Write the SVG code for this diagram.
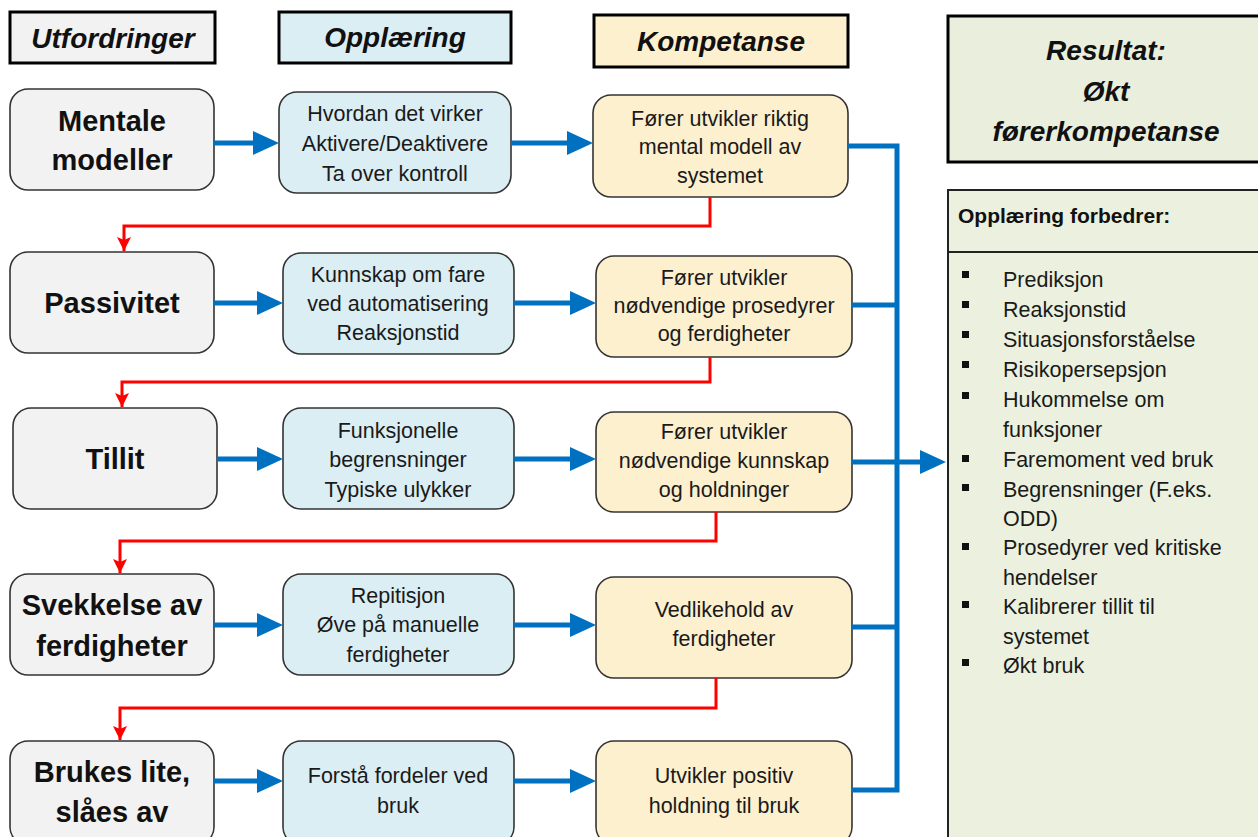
<svg xmlns="http://www.w3.org/2000/svg" width="1258" height="837" viewBox="0 0 1258 837">
  <style>
    .hdr { stroke: #000; stroke-width: 3; }
    .node { stroke: #333; stroke-width: 1.6; }
    .grey { fill: #f2f2f2; }
    .blue { fill: #dbeef4; }
    .cream { fill: #fdf0cf; }
    .green { fill: #e9efdc; }
    text { font-family: "Liberation Sans", Arial, sans-serif; fill: #111; }
    .ht { font-size: 28px; font-weight: bold; font-style: italic; text-anchor: middle; }
    .lt { font-size: 29px; font-weight: bold; text-anchor: middle; }
    .bt { font-size: 21.5px; text-anchor: middle; fill: #1a1a1a; }
    .pt { font-size: 21.5px; fill: #1a1a1a; }
    .flow { stroke: #0070c0; stroke-width: 5; fill: none; }
    .back { stroke: #ff0000; stroke-width: 3; fill: none; }
  </style>
  <defs>
    <marker id="blueHead" markerUnits="userSpaceOnUse" markerWidth="26" markerHeight="24" refX="4" refY="12" orient="auto">
      <path d="M0,0 L26,12 L0,24 z" fill="#0070c0"/>
    </marker>
    <marker id="redHead" markerUnits="userSpaceOnUse" markerWidth="14" markerHeight="14" refX="14" refY="7" orient="auto">
      <path d="M0,0 L14,7 L0,14 L3,7 z" fill="#ff0000"/>
    </marker>
  </defs>

  <rect width="1258" height="837" fill="#fff"/>

  <!-- column headers -->
  <g id="hdr-utfordringer">
    <rect class="hdr grey" x="10" y="12" width="205" height="51"/>
    <text class="ht" x="113" y="48">Utfordringer</text>
  </g>
  <g id="hdr-opplaering">
    <rect class="hdr blue" x="279" y="12" width="232" height="51"/>
    <text class="ht" x="395" y="47">Opplæring</text>
  </g>
  <g id="hdr-kompetanse">
    <rect class="hdr cream" x="594" y="15" width="254" height="52"/>
    <text class="ht" x="721" y="51">Kompetanse</text>
  </g>
  <g id="hdr-resultat">
    <rect class="hdr green" x="948" y="16" width="314" height="146"/>
    <text class="ht" x="1106" y="60">Resultat:</text>
    <text class="ht" x="1106" y="101">Økt</text>
    <text class="ht" x="1106" y="141" font-size="30">førerkompetanse</text>
  </g>

  <!-- result panel -->
  <g id="panel">
    <rect x="948" y="190" width="314" height="652" fill="#ebf1de" stroke="#222" stroke-width="2"/>
    <line x1="948" y1="252" x2="1262" y2="252" stroke="#222" stroke-width="2"/>
    <text x="958" y="223" font-size="21" font-weight="bold">Opplæring forbedrer:</text>
    <g fill="#111">
      <rect x="962" y="271" width="7" height="7"/>
      <rect x="962" y="301" width="7" height="7"/>
      <rect x="962" y="331" width="7" height="7"/>
      <rect x="962" y="361" width="7" height="7"/>
      <rect x="962" y="392" width="7" height="7"/>
      <rect x="962" y="455" width="7" height="7"/>
      <rect x="962" y="484" width="7" height="7"/>
      <rect x="962" y="543" width="7" height="7"/>
      <rect x="962" y="601" width="7" height="7"/>
      <rect x="962" y="659" width="7" height="7"/>
    </g>
    <text class="pt" x="1003" y="287">Prediksjon</text>
    <text class="pt" x="1003" y="317">Reaksjonstid</text>
    <text class="pt" x="1003" y="347">Situasjonsforståelse</text>
    <text class="pt" x="1003" y="377">Risikopersepsjon</text>
    <text class="pt" x="1003" y="407">Hukommelse om</text>
    <text class="pt" x="1003" y="437">funksjoner</text>
    <text class="pt" x="1003" y="467">Faremoment ved bruk</text>
    <text class="pt" x="1003" y="497">Begrensninger (F.eks.</text>
    <text class="pt" x="1003" y="526">ODD)</text>
    <text class="pt" x="1003" y="555">Prosedyrer ved kritiske</text>
    <text class="pt" x="1003" y="585">hendelser</text>
    <text class="pt" x="1003" y="614">Kalibrerer tillit til</text>
    <text class="pt" x="1003" y="644">systemet</text>
    <text class="pt" x="1003" y="673">Økt bruk</text>
  </g>

  <!-- row 1 -->
  <g id="mentale">
    <rect class="node grey" x="10" y="89" width="204" height="101" rx="18"/>
    <text class="lt" x="112" y="131">Mentale</text>
    <text class="lt" x="112" y="170">modeller</text>
  </g>
  <g id="hvordan">
    <rect class="node blue" x="279" y="92" width="232" height="101" rx="18"/>
    <text class="bt" x="395" y="121">Hvordan det virker</text>
    <text class="bt" x="395" y="151">Aktivere/Deaktivere</text>
    <text class="bt" x="395" y="181">Ta over kontroll</text>
  </g>
  <g id="mental-modell">
    <rect class="node cream" x="593" y="95" width="255" height="102" rx="18"/>
    <text class="bt" x="720" y="126">Fører utvikler riktig</text>
    <text class="bt" x="720" y="154">mental modell av</text>
    <text class="bt" x="720" y="183">systemet</text>
  </g>

  <!-- row 2 -->
  <g id="passivitet">
    <rect class="node grey" x="10" y="252" width="204" height="101" rx="18"/>
    <text class="lt" x="112" y="313">Passivitet</text>
  </g>
  <g id="kunnskap-fare">
    <rect class="node blue" x="283" y="253" width="231" height="101" rx="18"/>
    <text class="bt" x="398" y="282">Kunnskap om fare</text>
    <text class="bt" x="398" y="311">ved automatisering</text>
    <text class="bt" x="398" y="340">Reaksjonstid</text>
  </g>
  <g id="prosedyrer">
    <rect class="node cream" x="596" y="256" width="256" height="101" rx="18"/>
    <text class="bt" x="724" y="285">Fører utvikler</text>
    <text class="bt" x="724" y="313">nødvendige prosedyrer</text>
    <text class="bt" x="724" y="341">og ferdigheter</text>
  </g>

  <!-- row 3 -->
  <g id="tillit">
    <rect class="node grey" x="13" y="408" width="204" height="101" rx="18"/>
    <text class="lt" x="115" y="469">Tillit</text>
  </g>
  <g id="funksjonelle">
    <rect class="node blue" x="283" y="408" width="231" height="101" rx="18"/>
    <text class="bt" x="398" y="438">Funksjonelle</text>
    <text class="bt" x="398" y="467">begrensninger</text>
    <text class="bt" x="398" y="497">Typiske ulykker</text>
  </g>
  <g id="kunnskap-holdninger">
    <rect class="node cream" x="596" y="412" width="256" height="100" rx="18"/>
    <text class="bt" x="724" y="439">Fører utvikler</text>
    <text class="bt" x="724" y="468">nødvendige kunnskap</text>
    <text class="bt" x="724" y="497">og holdninger</text>
  </g>

  <!-- row 4 -->
  <g id="svekkelse">
    <rect class="node grey" x="10" y="574" width="204" height="101" rx="18"/>
    <text class="lt" x="112" y="615">Svekkelse av</text>
    <text class="lt" x="112" y="656">ferdigheter</text>
  </g>
  <g id="repitisjon">
    <rect class="node blue" x="283" y="574" width="231" height="101" rx="18"/>
    <text class="bt" x="398" y="603">Repitisjon</text>
    <text class="bt" x="398" y="632">Øve på manuelle</text>
    <text class="bt" x="398" y="662">ferdigheter</text>
  </g>
  <g id="vedlikehold">
    <rect class="node cream" x="596" y="577" width="256" height="101" rx="18"/>
    <text class="bt" x="724" y="617">Vedlikehold av</text>
    <text class="bt" x="724" y="646">ferdigheter</text>
  </g>

  <!-- row 5 -->
  <g id="brukes-lite">
    <rect class="node grey" x="10" y="741" width="204" height="104" rx="18"/>
    <text class="lt" x="112" y="782">Brukes lite,</text>
    <text class="lt" x="112" y="822">slåes av</text>
  </g>
  <g id="forsta">
    <rect class="node blue" x="283" y="741" width="231" height="104" rx="18"/>
    <text class="bt" x="398" y="783">Forstå fordeler ved</text>
    <text class="bt" x="398" y="813">bruk</text>
  </g>
  <g id="positiv-holdning">
    <rect class="node cream" x="596" y="741" width="256" height="104" rx="18"/>
    <text class="bt" x="724" y="783">Utvikler positiv</text>
    <text class="bt" x="724" y="813">holdning til bruk</text>
  </g>

  <!-- connectors -->
  <g id="connectors">
    <!-- challenge to training -->
    <line class="flow" x1="214" y1="143" x2="257" y2="143" marker-end="url(#blueHead)"/>
    <line class="flow" x1="214" y1="303" x2="261" y2="303" marker-end="url(#blueHead)"/>
    <line class="flow" x1="217" y1="459" x2="261" y2="459" marker-end="url(#blueHead)"/>
    <line class="flow" x1="214" y1="625" x2="261" y2="625" marker-end="url(#blueHead)"/>
    <line class="flow" x1="214" y1="781" x2="261" y2="781" marker-end="url(#blueHead)"/>
    <!-- training to competence -->
    <line class="flow" x1="511" y1="143" x2="571" y2="143" marker-end="url(#blueHead)"/>
    <line class="flow" x1="514" y1="303" x2="574" y2="303" marker-end="url(#blueHead)"/>
    <line class="flow" x1="514" y1="459" x2="574" y2="459" marker-end="url(#blueHead)"/>
    <line class="flow" x1="514" y1="625" x2="574" y2="625" marker-end="url(#blueHead)"/>
    <line class="flow" x1="514" y1="781" x2="574" y2="781" marker-end="url(#blueHead)"/>
    <!-- competence bus -->
    <polyline class="flow" points="848,146 897,146 897,790 852,790"/>
    <line class="flow" x1="852" y1="305" x2="897" y2="305"/>
    <line class="flow" x1="852" y1="627" x2="897" y2="627"/>
    <line class="flow" x1="852" y1="462" x2="924" y2="462" marker-end="url(#blueHead)"/>
    <!-- feedback to next challenge -->
    <polyline class="back" points="710,197 710,226 124,226 124,251" marker-end="url(#redHead)"/>
    <polyline class="back" points="710,357 710,382 122,382 122,407" marker-end="url(#redHead)"/>
    <polyline class="back" points="716,512 716,541 120,541 120,573" marker-end="url(#redHead)"/>
    <polyline class="back" points="716,678 716,708 120,708 120,740" marker-end="url(#redHead)"/>
  </g>
</svg>
